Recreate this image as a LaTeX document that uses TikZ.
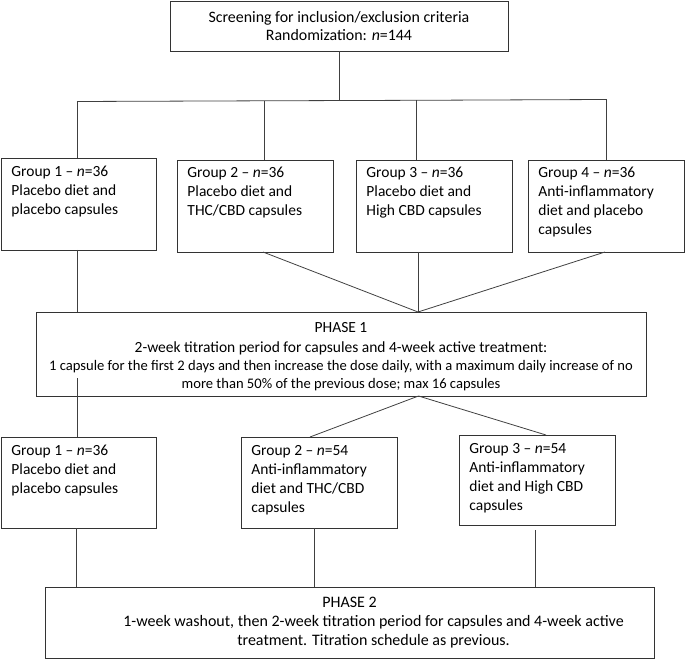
\documentclass[tikz,border=0pt]{standalone}
\usepackage{fontspec}
\setmainfont{Carlito}
\begin{document}
\begin{tikzpicture}[x=1pt,y=-1pt,
  box/.style={draw=black!80, line width=0.9pt, inner sep=0pt, font=\fontsize{15.5}{19}\selectfont},
  cbox/.style={box, align=center},
  ln/.style={draw=black!75, line width=0.8pt}]
\useasboundingbox (0,0) rectangle (685,660);
% top
\node[cbox, minimum width=338pt, minimum height=50pt, font=\fontsize{15.9}{18}\selectfont] (top) at (339,26)
  {Screening for inclusion/exclusion criteria\\Randomization: \textit{n}=144};
% groups row 1
\node[box, anchor=north west, minimum width=155pt, minimum height=92pt] (g1) at (0.8,158) {};
\node[box, anchor=north west, minimum width=156pt, minimum height=92pt] (g2) at (177,160) {};
\node[box, anchor=north west, minimum width=156pt, minimum height=92pt] (g3) at (356,160) {};
\node[box, anchor=north west, minimum width=156pt, minimum height=92pt] (g4) at (528,160) {};
\node[box, draw=none, anchor=north west, align=left] (g1t) at (11,166) {Group 1 -- \textit{n}=36\\Placebo diet and\\placebo capsules};
\node[box, draw=none, anchor=north west, align=left] (g2t) at (187,167) {Group 2 -- \textit{n}=36\\Placebo diet and\\THC/CBD capsules};
\node[box, draw=none, anchor=north west, align=left] (g3t) at (366,167) {Group 3 -- \textit{n}=36\\Placebo diet and\\High CBD capsules};
\node[box, draw=none, anchor=north west, align=left] (g4t) at (538,167) {Group 4 -- \textit{n}=36\\Anti-inflammatory\\diet and placebo\\capsules};
% phase 1
\node[cbox, minimum width=610pt, minimum height=84pt] (p1) at (341,354)
  {\rule{0pt}{16pt}PHASE 1\\[1pt]2-week titration period for capsules and 4-week active treatment:\\[-1pt]
   {\fontsize{14.6}{18}\selectfont 1 capsule for the first 2 days and then increase the dose daily, with a maximum daily increase of no}\\[-1pt]
   {\fontsize{14.6}{18}\selectfont more than 50\% of the previous dose; max 16 capsules}};
% groups row 2
\node[box, anchor=north west, minimum width=155pt, minimum height=91pt] (b1) at (0.8,437) {};
\node[box, anchor=north west, minimum width=156pt, minimum height=91pt] (b2) at (241,437) {};
\node[box, anchor=north west, minimum width=156pt, minimum height=90pt] (b3) at (459,435) {};
\node[box, draw=none, anchor=north west, align=left] (b1t) at (11,445) {Group 1 -- \textit{n}=36\\Placebo diet and\\placebo capsules};
\node[box, draw=none, anchor=north west, align=left] (b2t) at (251,445) {Group 2 -- \textit{n}=54\\Anti-inflammatory\\diet and THC/CBD\\capsules};
\node[box, draw=none, anchor=north west, align=left] (b3t) at (469,443) {Group 3 -- \textit{n}=54\\Anti-inflammatory\\diet and High CBD\\capsules};
% phase 2
\node[cbox, minimum width=609pt, minimum height=71pt, font=\fontsize{16}{19}\selectfont] (p2) at (349.5,622.5)
  {PHASE 2\\\hspace*{48pt}1-week washout, then 2-week titration period for capsules and 4-week active\\
   \hspace*{48pt}treatment. Titration schedule as previous.};
% connectors
\coordinate (j) at (339,100);
\coordinate (h1) at (77,101.5);
\coordinate (h2) at (264,100.8);
\coordinate (h3) at (416,100.3);
\coordinate (h4) at (606,99.5);
\draw[ln] (top.south) -- (j);
\draw[ln] (h1) -- (h2) -- (h3) -- (h4);
\draw[ln] (h1) -- (h1 |- g1.north);
\draw[ln] (h2) -- (h2 |- g2.north);
\draw[ln] (h3) -- (h3 |- g3.north);
\draw[ln] (h4) -- (h4 |- g4.north);
\coordinate (p1in) at (418,312);
\coordinate (g1s) at (77,250);
\coordinate (g2s) at (263,252);
\coordinate (g3s) at (418,252);
\coordinate (g4s) at (605,252);
\draw[ln] (g1s) -- (g1s |- p1.north);
\draw[ln] (g2s) -- (p1in);
\draw[ln] (g3s) -- (p1in);
\draw[ln] (g4s) -- (p1in);
\coordinate (p1l) at (77,378);
\draw[ln] (p1l) -- (p1l |- b1.north);
\coordinate (p1out) at (418.5,396);
\coordinate (b2n) at (310,437);
\coordinate (b3n) at (546,435);
\draw[ln] (p1out) -- (b2n);
\draw[ln] (p1out) -- (b3n);
\coordinate (b1s) at (76,528);
\coordinate (b2s) at (314,528);
\coordinate (b3s) at (535,530);
\draw[ln] (b1s) -- (b1s |- p2.north);
\draw[ln] (b2s) -- (b2s |- p2.north);
\draw[ln] (b3s) -- (b3s |- p2.north);
\end{tikzpicture}
\end{document}
